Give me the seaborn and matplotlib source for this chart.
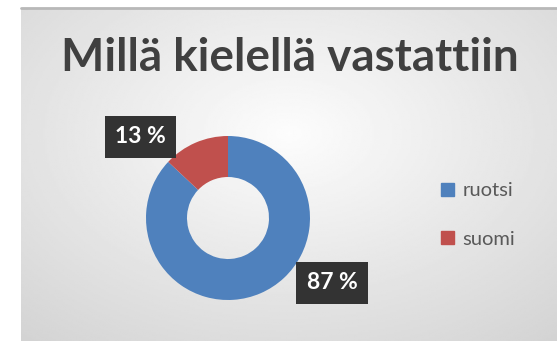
import numpy as np
import matplotlib
matplotlib.use("Agg")
import matplotlib.pyplot as plt
import seaborn as sns

# data
languages = ["ruotsi", "suomi"]
shares = [87, 13]
share_labels = ["87 %", "13 %"]
title = "Millä kielellä vastattiin"

sns.set_theme(style="white")
plt.rcParams["font.family"] = ["Lato", "DejaVu Sans"]

colors = ["#4F81BD", "#C0504D"]

W, H = 557, 341
fig = plt.figure(figsize=(W / 100, H / 100), dpi=100)
fig.patch.set_facecolor("white")

# background panel with soft radial gradient (chart area)
x0, y0 = 21, 9  # pixels from left / top
bg = fig.add_axes([x0 / W, 0, (W - x0) / W, (H - y0) / H])
yy, xx = np.mgrid[1:-1:200j, -1:1:300j]
grad = np.sqrt((xx * 0.95) ** 2 + ((yy - 0.25) * 0.9) ** 2)
bg.imshow(0.99 - 0.11 * grad, cmap="gray", vmin=0, vmax=1,
          extent=[0, 1, 0, 1], aspect="auto", origin="upper")
bg.set_xlim(0, 1)
bg.set_ylim(0, 1)
bg.axis("off")
# thin border line on top
fig.add_artist(plt.Line2D([x0 / W, 1], [1 - (y0 - 1) / H, 1 - (y0 - 1) / H],
                          color="#b8b8b8", lw=2.0))

# donut
cx, cy, r = 228, 218, 82
ax = fig.add_axes([(cx - r) / W, (H - cy - r) / H, 2 * r / W, 2 * r / H])
ax.pie(shares, colors=colors, startangle=90, counterclock=False,
       radius=1.0, wedgeprops=dict(width=0.5, edgecolor="none"))
ax.set_xlim(-1, 1)
ax.set_ylim(-1, 1)
ax.axis("off")

box = dict(boxstyle="square,pad=0.45", facecolor="#333333", edgecolor="none")
label_pos = [(1.27, -0.79), (-1.07, 0.99)]
for (lx, ly), txt in zip(label_pos, share_labels):
    ax.text(lx, ly, txt, ha="center", va="center", color="white",
            fontsize=16.5, fontweight="bold", bbox=box, clip_on=False)

fig.text(290 / W, 1 - 58 / H, title, ha="center", va="center",
         fontsize=33, fontweight="bold", color="#404040")

# legend
handles = [plt.Rectangle((0, 0), 1, 1, color=c) for c in colors]
fig.legend(handles, languages, loc="center left",
           bbox_to_anchor=(423 / W, 1 - 215 / H), frameon=False,
           fontsize=14.5, labelcolor="#595959", handlelength=0.65,
           handleheight=0.65, handletextpad=0.4, labelspacing=1.55)

fig.savefig("out.png", dpi=100)
